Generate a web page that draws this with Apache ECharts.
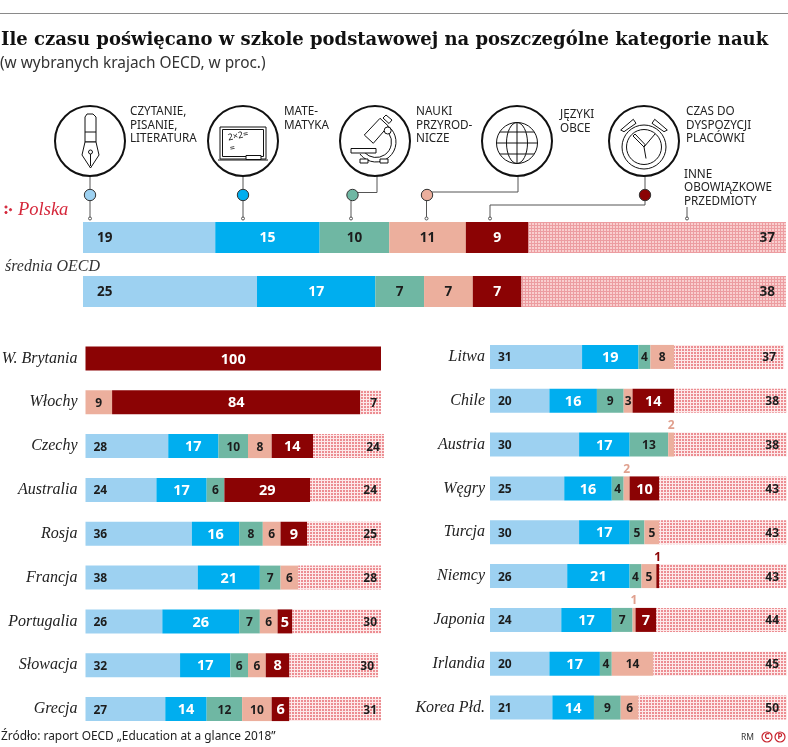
<!DOCTYPE html>
<html><head><meta charset="utf-8">
<style>html,body{margin:0;padding:0;background:#fff}#c{width:788px;height:747px}</style>
<script src="https://cdn.jsdelivr.net/npm/echarts@6/dist/echarts.min.js"></script>
</head><body><div id="c"></div>
<script>
const titleText='Ile czasu poświęcano w szkole podstawowej na poszczególne kategorie nauk';
const subtitleText='(w wybranych krajach OECD, w proc.)';
const sourceText='Źródło: raport OECD „Education at a glance 2018”';
const seriesNames=['Czytanie, pisanie, literatura','Matematyka','Nauki przyrodnicze','Języki obce','Czas do dyspozycji placówki','Inne obowiązkowe przedmioty'];
const seriesColors=['#9dd1f1','#00aeef','#6fb7a3','#ecaf9d','#8b0304'];

const topCats=['Polska','średnia OECD'];
const topReading=[19,25];
const topMath=[15,17];
const topScience=[10,7];
const topLang=[11,7];
const topFree=[9,7];
const topOther=[37,38];

const leftCats=['W. Brytania','Włochy','Czechy','Australia','Rosja','Francja','Portugalia','Słowacja','Grecja'];
const leftReading=[null,null,28,24,36,38,26,32,27];
const leftMath=[null,null,17,17,16,21,26,17,14];
const leftScience=[null,null,10,6,8,7,7,6,12];
const leftLang=[null,9,8,null,6,6,6,6,10];
const leftFree=[100,84,14,29,9,null,5,8,6];
const leftOther=[null,7,24,24,25,28,30,30,31];

const rightCats=['Litwa','Chile','Austria','Węgry','Turcja','Niemcy','Japonia','Irlandia','Korea Płd.'];
const rightReading=[31,20,30,25,30,26,24,20,21];
const rightMath=[19,16,17,16,17,21,17,17,14];
const rightScience=[4,9,13,4,5,4,7,4,9];
const rightLang=[8,3,2,2,5,5,1,14,6];
const rightFree=[null,14,null,10,null,1,7,null,null];
const rightOther=[37,38,38,43,43,43,44,45,50];

function pattern(size,bg,fg,w){
  const c=document.createElement('canvas');c.width=size;c.height=size;
  const g=c.getContext('2d');g.fillStyle=bg;g.fillRect(0,0,size,size);
  g.fillStyle=fg;g.fillRect(0,0,w,size);g.fillRect(0,0,size,w);
  return {image:c,repeat:'repeat'};
}
const patTop=pattern(3,'#f9cfcf','#ec9da1',1);
const patSmall=pattern(3,'#ec8d92','#fde9e9',1);

const SANS='"Noto Sans"';
const dark='#1c1c1c';
function stackSeries(idx,name,arrs,o){
  return arrs.map((arr,i)=>{
    const other=i===5;
    const white=i===1||i===4;
    return {
      type:'bar',name:seriesNames[i],xAxisIndex:idx,yAxisIndex:idx,stack:name,
      barWidth:o.bar,clip:false,silent:true,
      itemStyle:{color:other?o.pat:seriesColors[i]},
      label:{show:true,
        position:i===0?'insideLeft':other?'insideRight':'inside',
        distance:i===0?o.dl:other?o.dr:5,
        offset:[0,1],
        fontFamily:SANS,fontWeight:700,
        fontSize:white?o.fw:o.fd,color:white?'#fff':dark},
      data:arr.map(v=>{
        if(v!==null&&v<=2&&!other) return {value:v,label:{position:'top',distance:1,offset:[0,0],fontSize:12,color:i===4?'#8b0304':'#e0a08e'}};
        return v;
      })
    };
  });
}

const series=[
  ...stackSeries(0,'top',[topReading,topMath,topScience,topLang,topFree,topOther],{bar:31,pat:patTop,dl:14,dr:11,fd:13.5,fw:14}),
  ...stackSeries(1,'left',[leftReading,leftMath,leftScience,leftLang,leftFree,leftOther],{bar:24,pat:patSmall,dl:8,dr:4,fd:12,fw:14.5}),
  ...stackSeries(2,'right',[rightReading,rightMath,rightScience,rightLang,rightFree,rightOther],{bar:24,pat:patSmall,dl:8,dr:8,fd:12,fw:14.5})
];

const G=[];
const ink='#111';
function line(x1,y1,x2,y2,c,w){G.push({type:'line',silent:true,shape:{x1,y1,x2,y2},style:{stroke:c||ink,lineWidth:w||1}});}
function poly(pts,c,w,closed,fill){G.push({type:closed?'polygon':'polyline',silent:true,shape:{points:pts},style:{stroke:c||ink,lineWidth:w||1,fill:fill||(closed?'#fff':null)}});}
function circ(cx,cy,r,fill,c,w){G.push({type:'circle',silent:true,shape:{cx,cy,r},style:{fill:fill||'#fff',stroke:c===undefined?ink:c,lineWidth:w||1}});}
function txt(s,x,y,font,fill,align,rot){G.push({type:'text',silent:true,x,y,rotation:rot||0,style:{text:s,font,fill:fill||'#222',textAlign:align||'left',textVerticalAlign:'middle'}});}
function rect(x,y,width,height,c,w,fill){G.push({type:'rect',silent:true,shape:{x,y,width,height},style:{stroke:c||ink,lineWidth:w||1,fill:fill||'#fff'}});}
function arc(cx,cy,r,a,b,w){G.push({type:'arc',silent:true,shape:{cx,cy,r,startAngle:a,endAngle:b,clockwise:true},style:{stroke:ink,lineWidth:w||1,fill:null}});}

line(0,13.5,788,13.5,'#8a8a8a',1);
txt(titleText,1,40,'bold 18px "DejaVu Serif"','#111');
txt(subtitleText,0,63.5,'15.4px '+SANS,'#333');

// connectors
const gray='#555';
line(90,176,90,218,gray);line(243,176,243,218,gray);
poly([[377,176],[377,192.5],[352,192.5]],gray);line(351,195,351,218,gray);
poly([[518,176],[518,192],[427,192]],gray);line(426.5,195,426.5,218,gray);
poly([[645,176],[645,205],[490,205],[490,218]],gray);
line(687,207,687,218,gray);
[90,243,351,426.5,490,687].forEach(x=>circ(x,218.5,1.5,'#fff',gray,1));
[[90,seriesColors[0]],[243,seriesColors[1]],[352.5,seriesColors[2]],[427,seriesColors[3]],[645,seriesColors[4]]].forEach(d=>circ(d[0],195,5.7,d[1],'#333',1));

// icon rings
[90,243,375,517,644].forEach(x=>circ(x,141,35,'#fff',ink,2));

// pen
poly([[85,117],[87,114],[93,114],[96,117],[96,142],[85,142]],ink,1,true);
line(85,132,96,132);
poly([[85,142],[96,142],[99,155],[90.5,168],[82,155]],ink,1,true);
circ(90.5,152,2,'#fff');line(90.5,154,90.5,166);

// blackboard
rect(220,127,46,32,ink,1);rect(222.5,129.5,41,27,ink,1);
line(218,160,268,160,ink,1.2);rect(246,155.5,15,4,ink,1);
txt('2×2=',228,138,'9px '+SANS,'#222','left',0.2);txt('=',230,149,'9px '+SANS,'#222','left',0.2);

// microscope
arc(376,142,20,-0.9,2.5,1);arc(376,142,15.5,-0.6,2.4,1);
poly([[364.3,135],[380,118.3],[388.3,126],[373.3,143.3]],ink,1,true);
poly([[383,118],[386,115],[392,120],[389,123.5]],ink,1,true);
circ(387.7,130.5,3.5,'#fff');
rect(351,148.5,25,4.5,ink,1);
rect(360,159,8,4,ink,1);rect(380,159,8,4,ink,1);

// globe
circ(517,143,20.5,'#fff');G.push({type:'ellipse',silent:true,shape:{cx:517,cy:143,rx:10.5,ry:20.5},style:{stroke:ink,lineWidth:1,fill:null}});
line(517,122.5,517,163.5);line(496.5,143,537.5,143);line(500,132,534,132);line(500,154,534,154);

// clock
poly([[620.7,130],[633.3,119.3],[636,123.3],[624,131.7]],ink,1,true);
poly([[667.3,130],[654.7,119.3],[652,123.3],[664,131.7]],ink,1,true);
circ(644,147,22);circ(644,147,17.5);
line(644,147,655,134);line(644,147,646,158.5);
poly([[644,147],[633,136],[635,134],[645,144.5]],ink,1,true);

// category notes
const cap='11.7px '+SANS;
[['CZYTANIE,',130,112],['PISANIE,',130,125.5],['LITERATURA',130,139],
 ['MATE-',284,112],['MATYKA',284,125.5],
 ['NAUKI',416,112],['PRZYROD-',416,125.5],['NICZE',416,139],
 ['JĘZYKI',560,115],['OBCE',560,128.5],
 ['CZAS DO',686,112],['DYSPOZYCJI',686,125.5],['PLACÓWKI',686,139],
 ['INNE',684,174.5],['OBOWIĄZKOWE',684,188],['PRZEDMIOTY',684,201.5]
].forEach(t=>txt(t[0],t[1],t[2],cap,'#222'));

// row names for the two headline bars
const dots='#d5263a';
circ(6,207,1.1,dots,dots);circ(6,212.5,1.1,dots,dots);circ(10.5,209.7,1.1,dots,dots);
txt(topCats[0],18,210,'italic 18.5px "Liberation Serif"','#d5263a');
txt(topCats[1],5,267,'italic 16px "Liberation Serif"','#333');

// footer
txt(sourceText,1,737,'11.9px '+SANS,'#222');
txt('RM',741,737.5,'8.5px '+SANS,'#333');
[[767,'C'],[780,'P']].forEach(p=>{circ(p[0],737,5,'#fff','#c8252f',1.2);txt(p[1],p[0],737,'bold 8px '+SANS,'#c8252f','center');});

const catFont={fontFamily:'"Liberation Serif"',fontStyle:'italic',fontSize:16,color:'#222',padding:[4,0,0,0]};
const chart=echarts.init(document.getElementById('c'),null,{renderer:'canvas'});
chart.setOption({
  animation:false,backgroundColor:'#fff',
  grid:[
    {left:83,top:210.5,width:703,height:108,outerBoundsMode:'none'},
    {left:85.5,top:336.5,width:295.5,height:394.5,outerBoundsMode:'none'},
    {left:490,top:335,width:297,height:394.5,outerBoundsMode:'none'}
  ],
  xAxis:[
    {gridIndex:0,type:'value',min:0,max:101,show:false},
    {gridIndex:1,type:'value',min:0,max:100,show:false},
    {gridIndex:2,type:'value',min:0,max:100,show:false}
  ],
  yAxis:[
    {gridIndex:0,type:'category',inverse:true,data:topCats,axisLine:{show:false},axisTick:{show:false},axisLabel:{show:false}},
    {gridIndex:1,type:'category',inverse:true,data:leftCats,axisLine:{show:false},axisTick:{show:false},axisLabel:Object.assign({margin:8},catFont)},
    {gridIndex:2,type:'category',inverse:true,data:rightCats,axisLine:{show:false},axisTick:{show:false},axisLabel:Object.assign({margin:5},catFont)}
  ],
  series,
  graphic:{elements:G}
});
</script></body></html>
